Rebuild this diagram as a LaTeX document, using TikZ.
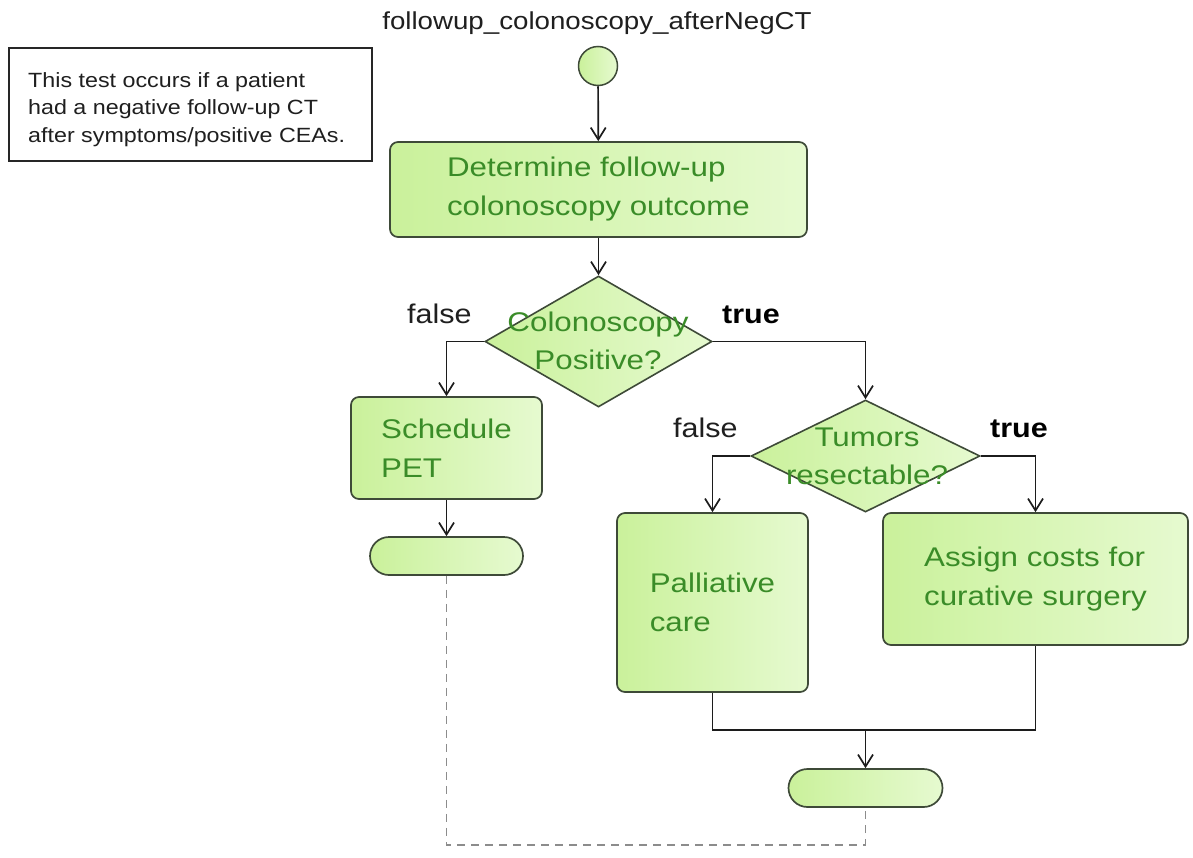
\documentclass[tikz,border=0pt]{standalone}
\usepackage{fontspec}
\setmainfont{Liberation Sans}[FakeStretch=1.13]
\newfontfamily\widesans{Liberation Sans}[FakeStretch=1.16]
\usetikzlibrary{shapes.geometric,arrows.meta,calc}

\definecolor{boxline}{RGB}{62,74,56}
\definecolor{fillL}{RGB}{202,241,155}
\definecolor{fillR}{RGB}{230,250,208}
\definecolor{textgreen}{RGB}{58,140,40}
\definecolor{edgecol}{RGB}{28,28,28}
\definecolor{dashcol}{RGB}{140,140,140}

\tikzset{
  greenfill/.style={left color=fillL, right color=fillR},
  actbox/.style={draw=boxline, line width=1.7pt, rounded corners=8pt, greenfill,
    text=textgreen, font=\widesans\fontsize{27}{39}\selectfont, align=left, inner sep=0pt},
  endbar/.style={draw=boxline, line width=1.7pt, rounded corners=19pt, greenfill,
    minimum width=153, minimum height=38, inner sep=0pt},
  decision/.style={diamond, draw=boxline, line width=1.6pt, greenfill, inner sep=0pt},
  decisiontext/.style={text=textgreen, font=\widesans\fontsize{27}{38}\selectfont, align=center, inner sep=0pt},
  guard/.style={font=\fontsize{27}{32}\selectfont, text=black!88, inner sep=0pt, anchor=base west},
  flowline/.style={draw=edgecol, line width=1.7pt},
  flow/.style={flowline, -{Straight Barb[length=12pt,width=15pt]}},
  loopline/.style={draw=dashcol, line width=1.3pt, dash pattern=on 8pt off 6pt},
}

\begin{document}
\begin{tikzpicture}[x=1pt,y=-1pt]
  \path[use as bounding box, fill=white] (0,0) rectangle (1193,857);

  % explanatory note
  \node[draw=black!85, line width=1.5pt, minimum width=363, minimum height=113,
        anchor=north west, inner sep=0pt] (note) at (8,47) {};
  \node[anchor=west, inner sep=0pt, align=left, text=black!88,
        font=\fontsize{20.6}{27.5}\selectfont] (notetext) at (28,109.2)
    {This test occurs if a patient\\had a negative follow-up CT\\after symptoms/positive CEAs.};

  % activity title and start
  \node[anchor=base, inner sep=0pt, text=black!88, font=\fontsize{24.5}{29}\selectfont]
    (title) at (597,29.5) {followup\_colonoscopy\_afterNegCT};
  \node[circle, draw=boxline, line width=1.5pt, greenfill, minimum size=39, inner sep=0pt]
    (start) at (598,66) {};

  % actions
  \node[actbox, minimum width=417, minimum height=95] (determine) at (598.5,189.5)
    {Determine follow-up\\colonoscopy outcome};
  \node[actbox, minimum width=191, minimum height=102] (pet) at (446.5,448)
    {Schedule\\PET};
  \node[actbox, minimum width=191, minimum height=179] (palliative) at (712.5,602.5)
    {Palliative\\care};
  \node[actbox, minimum width=305, minimum height=132] (surgery) at (1035.5,579)
    {Assign costs for\\curative surgery};

  % decisions
  \node[decision, minimum width=227, minimum height=131] (colpos) at (598.5,341.5) {};
  \node[decisiontext] (colpostext) at (598,341.3) {Colonoscopy\\Positive?};
  \node[decision, minimum width=229, minimum height=112] (resect) at (865.5,456) {};
  \node[decisiontext] (resecttext) at (867,456) {Tumors\\resectable?};

  % final bars
  \node[endbar] (endpet) at (446.5,556) {};
  \node[endbar, minimum width=154] (endtreat) at (865.5,788) {};

  % guards
  \node[guard] (colfalse) at (407,323) {false};
  \node[guard, font=\fontsize{27}{32}\selectfont\bfseries, text=black] (coltrue) at (722,323) {true};
  \node[guard] (resfalse) at (673,437) {false};
  \node[guard, font=\fontsize{27}{32}\selectfont\bfseries, text=black] (restrue) at (990,437) {true};

  % control flow
  \draw[flow] (start) -- (determine);
  \draw[flow] (determine) -- (colpos);
  \draw[flow] (colpos.west) -| (pet.north);
  \draw[flow] (colpos.east) -| (resect.north);
  \draw[flow] (pet) -- (endpet);
  \draw[flow] (resect.west) -| (palliative.north);
  \draw[flow] (resect.east) -| (surgery.north);

  \coordinate (merge) at (865.5,730);
  \draw[flowline] (palliative.south) |- (merge) -| (surgery.south);
  \draw[flow] (merge) -- (endtreat.north);

  \coordinate (loopbase) at (446.5,845);
  \draw[loopline] (endpet.south) -- (loopbase) -| (endtreat.south);
\end{tikzpicture}
\end{document}
